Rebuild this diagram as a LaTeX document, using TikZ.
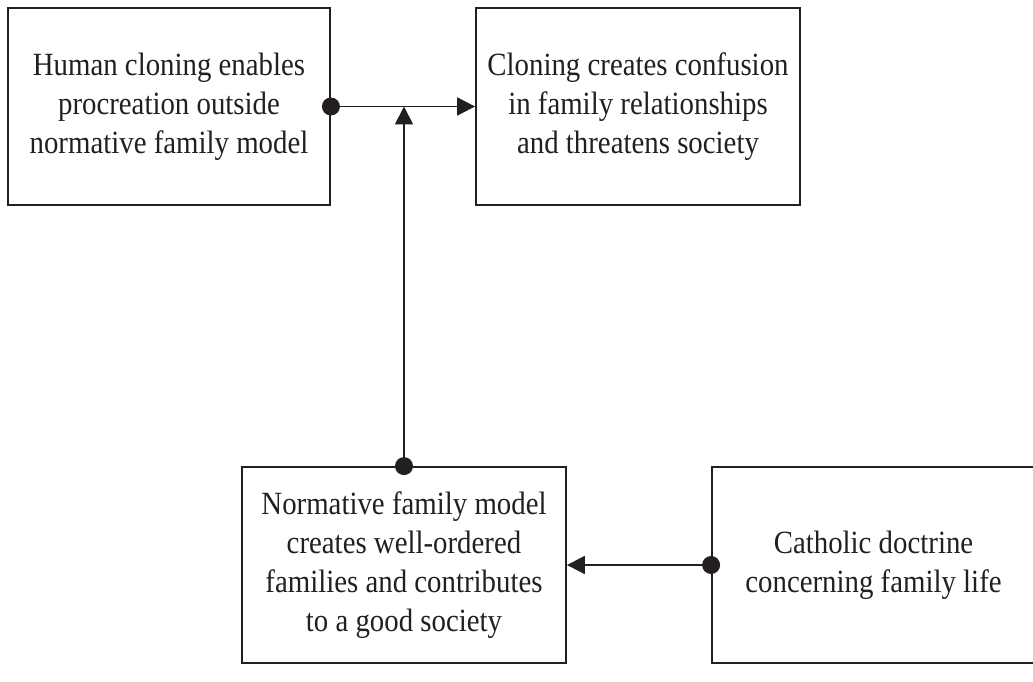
\documentclass[tikz,border=0pt]{standalone}
\usepackage{fontspec}
\setmainfont{Liberation Serif}[FakeStretch=0.89]
\usetikzlibrary{arrows.meta}
\definecolor{ink}{HTML}{231F20}
\begin{document}
\begin{tikzpicture}[x=1pt,y=-1pt,
  claim/.style={draw=ink, line width=1.8pt, inner sep=0pt, align=center,
    minimum height=197pt, text=ink,
    font=\fontsize{32.4pt}{38.8pt}\selectfont},
  link/.style={draw=ink, line width=1.8pt, -{Triangle[length=18pt,width=18pt]}},
  knob/.style={fill=ink}]
\useasboundingbox (0,0) rectangle (1033,682);
\node[claim, minimum width=322pt] (A) at (169,106.5)
  {Human cloning enables\\procreation outside\\normative family model};
\node[claim, minimum width=324pt] (B) at (638,106.5)
  {Cloning creates confusion\\in family relationships\\and threatens society};
\node[claim, minimum width=324pt, minimum height=196pt] (C) at (404,565)
  {Normative family model\\creates well-ordered\\families and contributes\\to a good society};
\node[claim, minimum width=323pt, minimum height=196pt] (D) at (873.5,565)
  {Catholic doctrine\\concerning family life};
\coordinate (J) at (C.north |- A.east);
\draw[link] (A.east) -- (B.west);
\draw[link] (C.north) -- (J);
\draw[link] (D.west) -- (C.east);
\fill[knob] (A.east) circle (9pt);
\fill[knob] (C.north) circle (9pt);
\fill[knob] (D.west) circle (9pt);
\end{tikzpicture}
\end{document}
